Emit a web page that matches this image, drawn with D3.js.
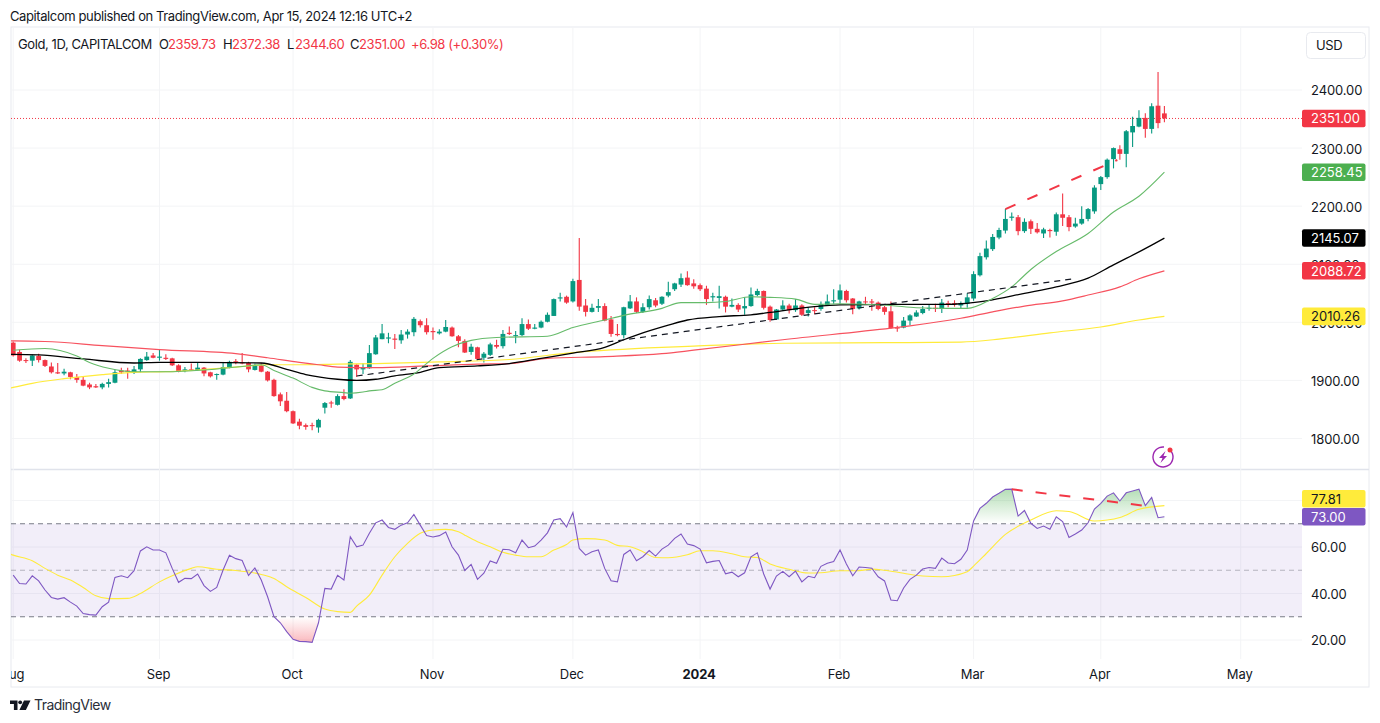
<!DOCTYPE html>
<html>
<head>
<meta charset="utf-8">
<script src="https://cdn.jsdelivr.net/npm/d3@7/dist/d3.min.js"></script>
<style>
html, body { margin: 0; padding: 0; background: #fff; }
svg { display: block; font-family: Inter, "Liberation Sans", sans-serif; letter-spacing: -0.4px; }
</style>
</head>
<body>
<script>
// daily candles
var opens = [1965,1949,1935,1934,1942,1935,1924,1914,1912,1914,
    1906,1901,1893,1890,1888,1894,1896,1917,1917,1914,
    1919,1935,1943,1939,1939,1938,1926,1916,1919,1918,
    1922,1914,1910,1910,1922,1933,1931,1930,1918,1926,
    1915,1901,1876,1865,1847,1829,1823,1823,1819,1853,
    1862,1858,1873,1869,1927,1919,1921,1945,1971,1972,
    1972,1969,1979,1983,2002,1995,1985,1981,1984,1991,
    1976,1968,1949,1957,1939,1944,1961,1959,1982,1977,
    1978,1997,1989,1991,2001,2011,2041,2044,2036,2073,
    2029,2018,2025,2028,2005,1980,1978,2024,2036,2018,
    2026,2038,2032,2046,2057,2065,2077,2067,2064,2058,
    2043,2042,2044,2027,2030,2024,2028,2047,2054,2027,
    2005,2022,2029,2021,2029,2016,2021,2023,2030,2036,
    2039,2054,2041,2024,2036,2036,2034,2026,2019,1991,
    1991,2003,2010,2016,2024,2025,2023,2033,2033,2029,
    2032,2041,2081,2112,2126,2146,2158,2180,2181,2157,
    2174,2161,2153,2159,2156,2186,2181,2165,2170,2178,
    2191,2238,2250,2281,2298,2290,2327,2337,2352,2333,
    2373,2359.73];
var highs = [1967,1953,1938,1945,1946,1936,1931,1930,1920,1915,
    1911,1907,1896,1894,1896,1903,1919,1922,1922,1925,
    1938,1949,1947,1953,1945,1939,1928,1923,1929,1930,
    1923,1915,1912,1930,1934,1937,1947,1932,1929,1930,
    1916,1903,1879,1880,1848,1834,1826,1827,1834,1863,
    1865,1876,1885,1935,1928,1930,1961,1978,1997,1982,
    1980,1987,1988,2009,2005,2007,1991,1988,2004,1993,
    1978,1971,1963,1958,1949,1965,1970,1987,1993,1985,
    2007,2005,1997,2003,2017,2041,2051,2046,2075,2145,
    2040,2032,2040,2033,2011,1997,2027,2047,2043,2033,
    2046,2042,2045,2070,2068,2084,2088,2074,2067,2063,
    2051,2063,2046,2041,2033,2043,2060,2058,2055,2029,
    2023,2038,2032,2040,2031,2026,2026,2036,2048,2057,
    2065,2056,2042,2037,2044,2040,2036,2028,2036,1994,
    2009,2014,2021,2028,2030,2032,2040,2037,2038,2036,
    2050,2088,2120,2141,2152,2163,2195,2189,2185,2179,
    2177,2171,2163,2161,2189,2222,2185,2180,2200,2197,
    2236,2252,2282,2301,2305,2331,2354,2365,2360,2377,
    2431,2372.38];
var lows = [1941,1932,1930,1925,1931,1923,1912,1911,1909,1902,
    1896,1890,1885,1887,1885,1888,1895,1911,1903,1911,
    1914,1934,1938,1934,1935,1925,1914,1914,1916,1916,
    1907,1905,1901,1909,1921,1928,1928,1914,1917,1914,
    1898,1872,1856,1845,1825,1816,1815,1814,1810,1843,
    1853,1857,1866,1868,1906,1911,1920,1944,1971,1964,
    1954,1963,1972,1976,1991,1979,1970,1979,1983,1975,
    1957,1947,1944,1935,1931,1942,1955,1955,1978,1964,
    1976,1987,1988,1990,2000,2011,2036,2032,2034,2020,
    2010,2017,2018,2002,1975,1976,1972,2023,2016,2016,
    2022,2026,2030,2043,2054,2061,2063,2058,2054,2030,
    2036,2024,2017,2026,2018,2013,2027,2045,2022,2001,
    2004,2020,2015,2018,2011,2010,2014,2020,2028,2032,
    2032,2034,2014,2022,2030,2020,2021,2013,1989,1984,
    1990,1995,2009,2014,2020,2018,2016,2026,2027,2024,
    2025,2037,2079,2108,2123,2143,2153,2175,2150,2154,
    2152,2153,2145,2146,2149,2166,2157,2163,2168,2174,
    2187,2228,2247,2265,2280,2267,2302,2336,2318,2325,
    2334,2344.6];
var closes = [1943,1934,1934,1943,1935,1925,1914,1912,1915,1906,
    1901,1891,1888,1888,1894,1897,1914,1914,1915,1919,
    1937,1941,1939,1941,1937,1926,1915,1919,1918,1922,
    1912,1907,1911,1923,1932,1931,1930,1919,1926,1915,
    1900,1873,1864,1847,1826,1822,1820,1822,1832,1861,
    1861,1873,1868,1932,1919,1922,1947,1974,1981,1974,
    1970,1979,1984,2006,1995,1983,1983,1984,1992,1976,
    1968,1948,1958,1937,1946,1962,1958,1980,1980,1978,
    1997,1989,1991,2001,2013,2040,2043,2034,2071,2027,
    2018,2025,2028,2003,1980,1978,2026,2036,2018,2026,
    2040,2029,2044,2052,2067,2076,2064,2062,2057,2040,
    2045,2045,2027,2030,2022,2028,2048,2054,2025,2004,
    2022,2029,2021,2029,2013,2021,2020,2031,2036,2038,
    2055,2038,2023,2036,2035,2034,2023,2018,1990,1990,
    2003,2012,2017,2023,2025,2024,2034,2031,2031,2033,
    2043,2083,2114,2127,2147,2159,2178,2182,2157,2173,
    2161,2155,2160,2157,2186,2180,2164,2170,2178,2195,
    2232,2250,2280,2300,2290,2329,2338,2352,2333,2372,
    2343,2351];

// moving averages, read at the bends of each line
var ma20Idx = [0,5,10,12,15,19,24,30,36,39,41,44,47,49,52,53,55,56,58,60,63,66,69,72,76,84,88,93,96,102,105,109,112,116,119,123,126,130,138,142,147,150,154,157,160,164,169,173,177,181];
var ma20Val = [1952,1955,1942,1931,1921,1915,1915,1918,1924,1927,1917,1904,1888,1882,1879,1878,1880,1882,1884,1895,1911,1938,1958,1969,1974,1976,1991,2004,2012,2024,2034,2034,2036,2044,2043,2040,2031,2032,2029,2025,2024,2024,2041,2061,2091,2122,2153,2190,2217,2258.45];

var ma50Idx = [-1,0,4,11,19,23,29,39,43,46,51,54,57,60,64,67,73,78,83,88,93,96,98,103,106,111,116,119,126,130,138,147,149,153,159,164,169,173,175,179,181];
var ma50Val = [1945,1945,1944,1937,1930,1931,1931,1930,1919,1910,1902,1900,1902,1908,1914,1922,1925,1929,1938,1947,1957,1970,1978,1995,2004,2010,2013,2017,2027,2030,2031,2031,2032,2037,2050,2061,2076,2099,2110,2133,2145.07];

var ma100Idx = [-1,0,5,14,23,35,40,45,48,51,57,65,73,78,84,93,102,107,121,138,141,149,154,159,165,169,174,177,181];
var ma100Val = [1968,1968,1967,1960,1953,1946,1939,1931,1927,1923,1922,1925,1928,1929,1938,1941,1946,1952,1970,1990,1994,2007,2018,2028,2037,2047,2061,2075,2088.72];

var ma200Idx = [-1,0,3,8,14,19,24,35,40,45,51,57,67,78,88,102,107,121,137,149,155,163,171,177,181];
var ma200Val = [1886,1888,1895,1903,1910,1914,1915,1923,1927,1927,1928,1929,1932,1936,1948,1957,1959,1964,1965,1966,1971,1982,1992,2004,2010.26];

// hand drawn trend lines: bar index, then price or RSI value
var blackTrendIdx = [54, 166.5];
var blackTrendVal = [1907.6, 2074.6];
var redTrendIdx = [156, 173.6];
var redTrendVal = [2195, 2279.5];
var rsiTrendIdx = [157, 179.2];
var rsiTrendVal = [84.8, 77.3];

var rsi = [47.9,44.3,44.1,47.6,45.4,41.5,38.3,37.6,38.2,36.3,
    34.6,31.4,30.9,30.7,34.3,36.3,46.9,47.6,46.8,49.8,
    58.3,60.1,58.7,58.7,57.5,50.8,44.8,46.5,46.4,48.4,
    43.4,40.9,42.6,50.1,56.4,55,54.2,47.8,51,45.8,
    38.6,30,27.4,23.6,20.3,19.4,19.3,19,27.4,42.2,
    41.9,47.8,45.8,64.4,60.1,60.8,65.9,70.4,71.6,68.4,
    67.6,69.4,70.4,74,69.4,64.9,64.3,64.9,66.4,60.1,
    56.5,49.9,52.5,46.1,48.7,54,53,59,58.8,57.5,
    63,59.7,60.4,63,66.1,71.6,72.2,68.6,74.8,59.4,
    56.5,58,58.7,50.8,45.5,45,56.8,58.7,54.1,55.8,
    58.5,56.1,59.1,60.8,63.7,65.6,61.3,60.6,59.1,53.2,
    53.8,54.2,48.5,49.2,47.2,48.9,55.8,57.5,48.4,41.9,
    47.5,49.5,47.2,49.6,45,47.4,46.8,51.7,53,53.8,
    58.7,52.7,47.6,51.4,51.2,50.9,47.2,45.4,37.2,36.9,
    42.4,46.1,47.9,50.5,51.2,50.8,55.2,53.1,52.8,54.7,
    58.7,71.2,76.6,78.8,81.5,83.1,84.8,84.9,73.3,75.7,
    70.2,68,69,67.6,73,70.9,64.1,65.6,67.3,70.4,
    76.3,78.8,81.9,83.3,79.8,83.3,84.1,84.9,77.8,81.3,
    72.6,73];

var rsiMaIdx = [-1,0,3,5,7,9,11,13,15,18,20,23,25,28,29,32,35,39,41,43,46,49,51,53,54,56,58,60,62,64,66,68,70,71,73,75,77,79,81,83,85,87,88,90,93,95,97,99,101,103,106,108,110,113,115,117,119,122,125,127,130,133,135,137,140,143,146,150,151,153,156,160,164,166,170,172,174,177,181];
var rsiMaVal = [57.5,56.5,54.1,50.8,47.9,45.8,42.6,39,37.8,37.9,40,45,47.6,50.8,51.5,50.4,49.9,48.2,46.5,42.9,38.3,33.3,32.2,31.9,34.6,39.3,47.9,55.8,61.6,65.9,67.3,67.6,66.6,65.1,62.3,60.1,57.7,56.5,55.8,55.8,58.7,61.1,63,63.6,63,60.7,60.1,58,55.5,55.4,56.7,58.4,58.4,57.1,55.8,55.5,52.7,50.4,48.8,48.9,49.8,49.8,50.5,50,48.7,47.5,47.2,49.4,51.8,57.2,65.4,71.6,75.6,75.3,71.2,71.6,72.7,76.2,77.81];

// axis ticks
var priceTicks = [1800,1900,2000,2100,2200,2300,2400];
var rsiTicks = [20,40,60];
var rsiGridTicks = [20,40,60,80];
var monthIdx = [0,23,44,66,88,108,130,151,171,193];
var monthLabels = ["Aug","Sep","Oct","Nov","Dec","2024","Feb","Mar","Apr","May"];

var lastPrice = 2351;
var priceTags = [
    {v: 2351, fill: "#f23645", text: "#fff", label: "2351.00"},
    {v: 2258.45, fill: "#4caf50", text: "#fff", label: "2258.45"},
    {v: 2145.07, fill: "#000", text: "#fff", label: "2145.07"},
    {v: 2088.72, fill: "#f23645", text: "#fff", label: "2088.72"},
    {v: 2010.26, fill: "#ffeb3b", text: "#131722", label: "2010.26"}
];
var rsiTags = [
    {v: 73, fill: "#7e57c2", text: "#fff", label: "73.00", shift: 0},
    {v: 77.81, fill: "#ffeb3b", text: "#131722", label: "77.81", shift: -6.8}
];

var width = 1380, height = 723;
var paneLeft = 11, paneRight = 1302, outerRight = 1369, paneTop = 27, paneBottom = 687;
var mainBottom = 469, rsiTop = 470, rsiBottom = 659;
var red = "#f23645", teal = "#089981", gridColor = "#f3f4f6", borderColor = "#e8eaef", textColor = "#131722";

var svg = d3.select("body").append("svg")
    .attr("width", width)
    .attr("height", height);

var x = d3.scaleLinear().domain([0, 181]).range([13.2, 1164.4]);
var y = d3.scaleLinear().domain([1800, 2400]).range([438.5, 90]);
var yRsi = d3.scaleLinear().domain([20, 60]).range([640, 547]);

var defs = svg.append("defs");
defs.append("clipPath").attr("id", "mainClip").append("rect")
    .attr("x", paneLeft).attr("y", paneTop).attr("width", paneRight - paneLeft).attr("height", mainBottom - paneTop);
defs.append("clipPath").attr("id", "rsiClip").append("rect")
    .attr("x", paneLeft).attr("y", rsiTop).attr("width", paneRight - paneLeft).attr("height", rsiBottom - rsiTop);
defs.append("clipPath").attr("id", "axisClip").append("rect")
    .attr("x", paneLeft).attr("y", rsiBottom).attr("width", outerRight - paneLeft).attr("height", paneBottom - rsiBottom);
defs.append("clipPath").attr("id", "overClip").append("rect")
    .attr("x", paneLeft).attr("y", rsiTop).attr("width", paneRight - paneLeft).attr("height", yRsi(70) - rsiTop);
defs.append("clipPath").attr("id", "underClip").append("rect")
    .attr("x", paneLeft).attr("y", yRsi(30)).attr("width", paneRight - paneLeft).attr("height", rsiBottom - yRsi(30));

var overGrad = defs.append("linearGradient").attr("id", "overGrad")
    .attr("gradientUnits", "userSpaceOnUse")
    .attr("x1", 0).attr("x2", 0).attr("y1", yRsi(85)).attr("y2", yRsi(70));
overGrad.append("stop").attr("offset", 0).attr("stop-color", "#4caf50").attr("stop-opacity", 0.42);
overGrad.append("stop").attr("offset", 1).attr("stop-color", "#4caf50").attr("stop-opacity", 0);
var underGrad = defs.append("linearGradient").attr("id", "underGrad")
    .attr("gradientUnits", "userSpaceOnUse")
    .attr("x1", 0).attr("x2", 0).attr("y1", yRsi(30)).attr("y2", yRsi(19));
underGrad.append("stop").attr("offset", 0).attr("stop-color", "#f23645").attr("stop-opacity", 0);
underGrad.append("stop").attr("offset", 1).attr("stop-color", "#f23645").attr("stop-opacity", 0.35);

// frame
svg.append("rect").attr("x", paneLeft).attr("y", paneTop)
    .attr("width", outerRight - paneLeft).attr("height", paneBottom - paneTop)
    .attr("fill", "none").attr("stroke", borderColor);
svg.append("line").attr("x1", paneLeft).attr("x2", outerRight).attr("y1", mainBottom + 0.5).attr("y2", mainBottom + 0.5)
    .attr("stroke", "#e0e3eb").attr("stroke-width", 1.5);

// grid
svg.append("g").selectAll("line").data(monthIdx).enter().append("line")
    .attr("x1", d => x(d)).attr("x2", d => x(d))
    .attr("y1", paneTop).attr("y2", rsiBottom)
    .attr("stroke", gridColor);
svg.append("g").selectAll("line").data(priceTicks).enter().append("line")
    .attr("x1", paneLeft).attr("x2", paneRight)
    .attr("y1", d => y(d)).attr("y2", d => y(d))
    .attr("stroke", gridColor);
svg.append("g").selectAll("line").data(rsiGridTicks).enter().append("line")
    .attr("x1", paneLeft).attr("x2", paneRight)
    .attr("y1", d => yRsi(d)).attr("y2", d => yRsi(d))
    .attr("stroke", gridColor);

// last price line
svg.append("line").attr("x1", paneLeft).attr("x2", paneRight)
    .attr("y1", y(lastPrice)).attr("y2", y(lastPrice))
    .attr("stroke", red).attr("stroke-dasharray", "1 2");

// candles
var main = svg.append("g").attr("clip-path", "url(#mainClip)");
var candleColor = i => closes[i] >= opens[i] ? teal : red;
main.append("g").selectAll("line").data(d3.range(opens.length)).enter().append("line")
    .attr("x1", i => x(i)).attr("x2", i => x(i))
    .attr("y1", i => y(highs[i])).attr("y2", i => y(lows[i]))
    .attr("stroke", candleColor).attr("stroke-width", 1.1);
main.append("g").selectAll("rect").data(d3.range(opens.length)).enter().append("rect")
    .attr("x", i => x(i) - 2.4)
    .attr("width", 4.8)
    .attr("y", i => y(Math.max(opens[i], closes[i])))
    .attr("height", i => Math.max(1, Math.abs(y(opens[i]) - y(closes[i]))))
    .attr("fill", candleColor);

// moving averages
function drawLine(parent, idx, val, scale, color, w, dash) {
    var line = d3.line().x(d => x(d)).y((d, i) => scale(val[i]));
    if (!dash) line.curve(d3.curveMonotoneX);
    return parent.append("path")
        .attr("d", line(idx))
        .attr("fill", "none")
        .attr("stroke", color)
        .attr("stroke-width", w)
        .attr("stroke-dasharray", dash || null);
}
drawLine(main, ma200Idx, ma200Val, y, "#ffeb3b", 1.2);
drawLine(main, ma100Idx, ma100Val, y, "#f7525f", 1.2);
drawLine(main, ma50Idx, ma50Val, y, "#000", 1.3);
drawLine(main, ma20Idx, ma20Val, y, "#66bb6a", 1.1);
drawLine(main, blackTrendIdx, blackTrendVal, y, "#131722", 1.2, "6 5");
drawLine(main, redTrendIdx, redTrendVal, y, red, 2, "11 13");

// bolt marker
var bolt = svg.append("g").attr("transform", "translate(1163,457)");
bolt.append("path")
    .attr("d", d3.arc().innerRadius(9.3).outerRadius(10.7).startAngle(0.75).endAngle(2 * Math.PI + 0.1)())
    .attr("fill", "#9c27b0");
bolt.append("path")
    .attr("d", "M2.5 -6 L-4 1 L-0.5 1 L-2.5 6 L4 -1 L0.5 -1 Z")
    .attr("fill", "#9c27b0");
bolt.append("circle").attr("cx", 7).attr("cy", -7).attr("r", 2.5).attr("fill", red);

// RSI pane
var rsiPane = svg.append("g").attr("clip-path", "url(#rsiClip)");
rsiPane.append("rect")
    .attr("x", paneLeft).attr("width", paneRight - paneLeft)
    .attr("y", yRsi(70)).attr("height", yRsi(30) - yRsi(70))
    .attr("fill", "#7e57c2").attr("fill-opacity", 0.1);

var rsiArea = level => d3.area()
    .x((d, i) => x(i))
    .y0(yRsi(level))
    .y1(d => yRsi(d));
rsiPane.append("g").attr("clip-path", "url(#overClip)").append("path")
    .attr("d", rsiArea(70)(rsi)).attr("fill", "url(#overGrad)");
rsiPane.append("g").attr("clip-path", "url(#underClip)").append("path")
    .attr("d", rsiArea(30)(rsi)).attr("fill", "url(#underGrad)");

[70, 50, 30].forEach(level => {
    rsiPane.append("line")
        .attr("x1", paneLeft).attr("x2", paneRight)
        .attr("y1", yRsi(level)).attr("y2", yRsi(level))
        .attr("stroke", "#787b86")
        .attr("stroke-opacity", level === 50 ? 0.5 : 1)
        .attr("stroke-dasharray", "5 4");
});

drawLine(rsiPane, rsiMaIdx, rsiMaVal, yRsi, "#ffeb3b", 1.1);
var rsiLine = d3.line().x((d, i) => x(i)).y(d => yRsi(d));
rsiPane.append("path").attr("d", rsiLine(rsi))
    .attr("fill", "none").attr("stroke", "#7e57c2").attr("stroke-width", 1.1);
drawLine(rsiPane, rsiTrendIdx, rsiTrendVal, yRsi, red, 2, "11 13");

// axes
function styleAxis(g) {
    g.select(".domain").remove();
    g.selectAll(".tick line").remove();
    g.selectAll("text").attr("fill", textColor)
        .style("font-size", "13px")
        .style("letter-spacing", "-0.1px")
        .style("font-family", "Inter, sans-serif");
}
svg.append("g").attr("transform", "translate(1302,0.8)")
    .call(d3.axisRight(y).tickValues(priceTicks).tickFormat(d3.format(".2f")).tickSize(0).tickPadding(9))
    .call(styleAxis);
svg.append("g").attr("transform", "translate(1302,0.8)")
    .call(d3.axisRight(yRsi).tickValues(rsiTicks).tickFormat(d3.format(".2f")).tickSize(0).tickPadding(9))
    .call(styleAxis);
var timeAxis = svg.append("g").attr("clip-path", "url(#axisClip)").append("g")
    .attr("transform", "translate(-1.5," + (rsiBottom + 6) + ")")
    .call(d3.axisBottom(x).tickValues(monthIdx).tickFormat((d, i) => monthLabels[i]).tickSize(0).tickPadding(5))
    .call(styleAxis);
timeAxis.selectAll("text").filter(d => d === 108).style("font-weight", 700);

// value tags on the scale
function drawTags(tags, scale) {
    var g = svg.append("g").selectAll("g").data(tags).enter().append("g")
        .attr("transform", d => "translate(1302," + (scale(d.v) + (d.shift || 0)) + ")");
    g.append("rect")
        .attr("x", 0).attr("y", -8.8)
        .attr("width", 63.5).attr("height", 17.6)
        .attr("rx", 2).attr("fill", d => d.fill);
    g.append("text")
        .attr("x", 9).attr("dy", "0.38em")
        .attr("fill", d => d.text)
        .style("font-size", "13px")
        .style("letter-spacing", "0")
        .text(d => d.label);
}
drawTags(priceTags, y);
drawTags(rsiTags, yRsi);

// currency button
svg.append("rect").attr("x", 1306.5).attr("y", 32.5).attr("width", 59).attr("height", 26).attr("rx", 4)
    .attr("fill", "#fff").attr("stroke", "#e8eaef");
svg.append("text").attr("x", 1316).attr("y", 49.5).attr("fill", textColor).style("font-size", "13px").text("USD");

// header and legend
svg.append("text").attr("x", 10).attr("y", 21).attr("fill", textColor).style("font-size", "13px")
    .text("Capitalcom published on TradingView.com, Apr 15, 2024 12:16 UTC+2");
var legend = [
    [18, "Gold, 1D, CAPITALCOM", textColor],
    [159, "O", textColor], [168, "2359.73", red],
    [223, "H", textColor], [232, "2372.38", red],
    [287, "L", textColor], [295, "2344.60", red],
    [350, "C", textColor], [359, "2351.00", red],
    [411, "+6.98 (+0.30%)", red]
];
svg.append("g").selectAll("text").data(legend).enter().append("text")
    .attr("x", d => d[0]).attr("y", 49)
    .attr("fill", d => d[2])
    .style("font-size", "13px")
    .text(d => d[1]);

// TradingView logo
svg.append("path")
    .attr("d", "M10 700.5h7.5v9.5h-3.6v-6h-3.9z M24 700.5h6.5l-4.6 9.5h-6.5z")
    .attr("fill", "#131722");
svg.append("circle").attr("cx", 20.2).attr("cy", 702.3).attr("r", 1.9).attr("fill", "#131722");
svg.append("text").attr("x", 34).attr("y", 710).attr("fill", "#2a2e39").style("font-size", "14px").style("letter-spacing", "-0.55px").text("TradingView");
</script>
</body>
</html>
